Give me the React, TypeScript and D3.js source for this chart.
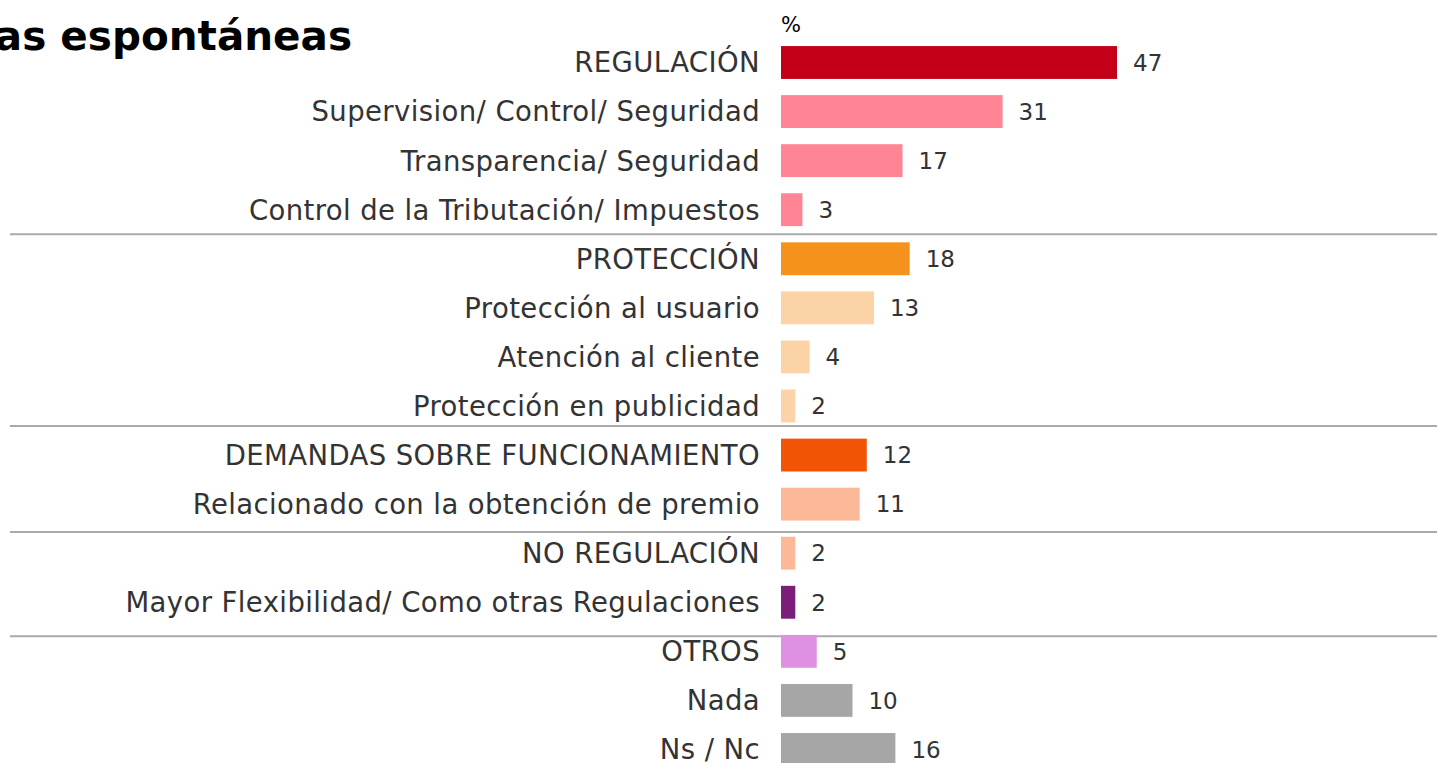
import React from "react";
import * as d3 from "d3";

const categories = [
  "REGULACIÓN",
  "Supervision/ Control/ Seguridad",
  "Transparencia/ Seguridad",
  "Control de la Tributación/ Impuestos",
  "PROTECCIÓN",
  "Protección al usuario",
  "Atención al cliente",
  "Protección en publicidad",
  "DEMANDAS SOBRE FUNCIONAMIENTO",
  "Relacionado con la obtención de premio",
  "NO REGULACIÓN",
  "Mayor Flexibilidad/ Como otras Regulaciones",
  "OTROS",
  "Nada",
  "Ns / Nc",
];
const values = [47, 31, 17, 3, 18, 13, 4, 2, 12, 11, 2, 2, 5, 10, 16];
const colors = [
  "#C40018", "#FF8494", "#FF8494", "#FF8494",
  "#F5921E", "#FBD3A6", "#FBD3A6", "#FBD3A6",
  "#F25406", "#FDB897",
  "#FDB897", "#7B1E7A",
  "#DE91E0", "#A6A6A6", "#A6A6A6",
];
// separator positions in row-index units
const separators = [3.5, 7.41, 9.57, 11.69];
const title = "Sugerencias espontáneas";

const W = 1437;
const H = 763;
const FONT = "'DejaVu Sans', Verdana, sans-serif";

export default function App() {
  const step = 49.07;
  const y = d3
    .scaleBand<string>()
    .domain(categories)
    .range([62.5 - step / 2, 62.5 - step / 2 + step * categories.length])
    .paddingInner(0.33)
    .paddingOuter(0.165);
  const x = d3.scaleLinear().domain([0, 47]).range([781, 1117]);
  const rowCenter = d3
    .scaleLinear()
    .domain([0, categories.length - 1])
    .range([
      (y(categories[0]) as number) + y.bandwidth() / 2,
      (y(categories[categories.length - 1]) as number) + y.bandwidth() / 2,
    ]);

  return (
    <svg
      width={W}
      height={H}
      style={{ position: "absolute", left: 0, top: 0, background: "#fff" }}
      fontFamily={FONT}
    >
      <text x={352} y={50} textAnchor="end" fontSize={40.5} fontWeight="bold" fill="#000">
        {title}
      </text>
      <text x={x(0)} y={32} fontSize={21} fill="#000">
        %
      </text>
      {separators.map((s, i) => (
        <line
          key={i}
          x1={10}
          x2={W}
          y1={rowCenter(s)}
          y2={rowCenter(s)}
          stroke="#AAAAAA"
          strokeWidth={2}
        />
      ))}
      {categories.map((c, i) => {
        const yc = (y(c) as number) + y.bandwidth() / 2;
        return (
          <g key={c}>
            <text
              x={760}
              y={yc}
              dy="0.36em"
              textAnchor="end"
              fontSize={27.5}
              letterSpacing={0.4}
              fill="#333333"
            >
              {c}
            </text>
            <rect
              x={x(0)}
              y={y(c)}
              width={x(values[i]) - x(0)}
              height={y.bandwidth()}
              fill={colors[i]}
            />
            <text x={x(values[i]) + 16} y={yc} dy="0.36em" fontSize={23} fill="#333333">
              {values[i]}
            </text>
          </g>
        );
      })}
    </svg>
  );
}
